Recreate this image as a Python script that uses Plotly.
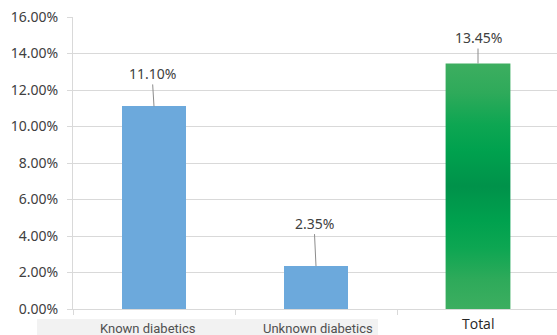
import plotly.graph_objects as go

# Prevalence of diabetes by group (percent)
categories = ["Known diabetics", "Unknown diabetics", "Total"]
values = [11.10, 2.35, 13.45]
y_ticks = [0, 2, 4, 6, 8, 10, 12, 14, 16]

BLUE = "#6CA9DC"
GRID = "#D9D9D9"
TEXT = "#404040"

W, H = 557, 335
M_L, M_R, M_T, M_B = 73, 0, 17, 26
BAR_W = 0.40
x_pos = list(range(len(categories)))

fig = go.Figure()

# Plain bars for the two subgroups
fig.add_trace(go.Bar(
    x=x_pos[:2], y=values[:2], width=BAR_W,
    marker=dict(color=BLUE, line=dict(width=0)),
    hoverinfo="skip", showlegend=False,
))

# Total bar: base colour plus a green gradient, darkest at mid-height
tx, tv = x_pos[2], values[2]
fig.add_trace(go.Bar(
    x=[tx], y=[tv], width=BAR_W,
    marker=dict(color="#2EA85A", line=dict(width=0)),
    hoverinfo="skip", showlegend=False,
))
half = BAR_W / 2
fig.add_trace(go.Scatter(
    x=[tx - half, tx + half, tx + half, tx - half, tx - half],
    y=[0, 0, tv, tv, 0],
    mode="lines", line=dict(width=0), fill="toself",
    fillgradient=dict(
        type="vertical",
        colorscale=[
            [0.00, "#3DAE60"], [0.12, "#2EAA5A"], [0.25, "#0DA652"],
            [0.36, "#00A14E"], [0.50, "#00924A"], [0.64, "#00A14E"],
            [0.75, "#0DA652"], [0.88, "#2EAA5A"], [1.00, "#3DAE60"],
        ],
    ),
    hoverinfo="skip", showlegend=False,
))

# Value labels with leader lines
label_offsets = [(-2, -33), (-2, -43), (0, -26)]
for xi, v, (ax, ay) in zip(x_pos, values, label_offsets):
    fig.add_annotation(
        x=xi, y=v, xref="x", yref="y",
        text=f"{v:.2f}%", showarrow=True, arrowhead=0,
        arrowwidth=1, arrowcolor="#8C8C8C", ax=ax, ay=ay,
        font=dict(family="Noto Sans", size=14, color=TEXT),
    )

# Light band behind the first two category labels
plot_w = W - M_L - M_R
plot_h = H - M_T - M_B
def px_x(p):
    return (p - M_L) / plot_w
def px_y(p):
    return (H - M_B - p) / plot_h

fig.add_shape(
    type="rect", xref="paper", yref="paper", layer="below",
    x0=px_x(37), x1=px_x(378), y0=px_y(335), y1=px_y(319),
    fillcolor="#F2F2F2", line=dict(width=0),
)

# Category labels
label_style = [
    (-6, dict(family="Roboto", size=13, color="#505050"), px_y(328), "middle"),
    (2, dict(family="Roboto", size=13, color="#505050"), px_y(328), "middle"),
    (0, dict(family="Open Sans", size=14, color="#262626"), px_y(335), "bottom"),
]
for xi, name, (shift, font, ly, anchor) in zip(x_pos, categories, label_style):
    fig.add_annotation(
        x=xi, y=ly, xref="x", yref="paper", xshift=shift,
        text=name, showarrow=False, font=font,
        xanchor="center", yanchor=anchor,
    )

fig.update_layout(
    width=W, height=H,
    margin=dict(l=M_L, r=M_R, t=M_T, b=M_B, pad=0),
    paper_bgcolor="white", plot_bgcolor="white",
    bargap=0, showlegend=False,
)
fig.update_xaxes(
    range=[-0.5, 2.5 + (W - M_L - 3 * 162) / 162],
    tickvals=[-0.5, 0.5, 1.5, 2.5], showticklabels=False,
    ticks="outside", ticklen=5, tickcolor=GRID, tickwidth=1,
    showgrid=False, zeroline=False, showline=True, linecolor=GRID, linewidth=1,
)
fig.update_yaxes(
    range=[0, 16], tickvals=y_ticks,
    ticktext=[f"{t:.2f}%" for t in y_ticks],
    ticks="outside", ticklen=5, tickcolor=GRID, tickwidth=1,
    showgrid=True, gridcolor=GRID, gridwidth=1,
    zeroline=False, showline=True, linecolor=GRID, linewidth=1,
    tickfont=dict(family="Noto Sans", size=14, color=TEXT),
    ticklabelstandoff=6,
)

fig.write_html("out.html")
